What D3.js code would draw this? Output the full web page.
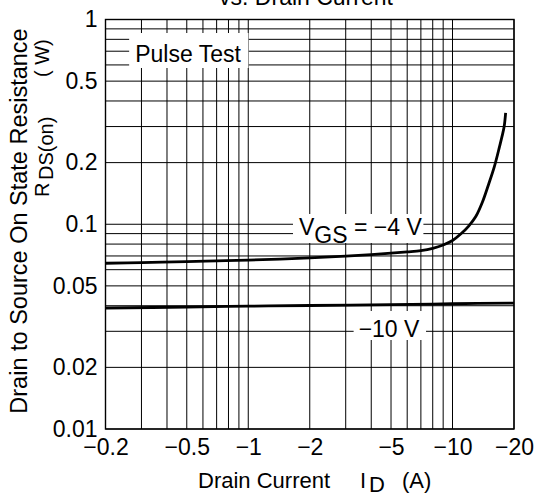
<!DOCTYPE html>
<html><head><meta charset="utf-8">
<script src="https://cdn.jsdelivr.net/npm/d3@7"></script>
<style>body{margin:0;background:#fff}svg{display:block}text{font-family:"Liberation Sans",Arial,sans-serif;fill:#000}</style>
</head><body><svg id="c" width="535" height="497"></svg>
<script>
// data
const xTickValues = [0.2, 0.5, 1, 2, 5, 10, 20];
const xTickLabels = ["\u22120.2", "\u22120.5", "\u22121", "\u22122", "\u22125", "\u221210", "\u221220"];
const yTickValues = [0.01, 0.02, 0.05, 0.1, 0.2, 0.5, 1];
const yTickLabels = ["0.01", "0.02", "0.05", "0.1", "0.2", "0.5", "1"];
const xGridValues = [0.2,0.3,0.4,0.5,0.6,0.7,0.8,0.9,1,2,3,4,5,6,7,8,9,10,20];
const yGridValues = [0.01,0.02,0.03,0.04,0.05,0.06,0.07,0.08,0.09,0.1,0.2,0.3,0.4,0.5,0.6,0.7,0.8,0.9,1];
const vgs4Current = [0.2,0.3,0.5,0.7,1,2,3,4,5,6,7,8,9,10,11,12,13,14,15,16,17,17.5,17.9,18.2];
const vgs4Rds =     [0.0645,0.065,0.0657,0.0663,0.0668,0.0685,0.0698,0.071,0.0722,0.0733,0.0744,0.0763,0.0792,0.0833,0.0898,0.098,0.109,0.128,0.156,0.19,0.24,0.27,0.3,0.35];
const vgs10Current = [0.2,0.5,1,2,5,10,20];
const vgs10Rds =     [0.039,0.0394,0.0398,0.0401,0.0405,0.0409,0.0412];

const svg = d3.select("#c");
const L = 105.5, R = 514, T = 19.5, B = 429;
const x = d3.scaleLog().domain([0.2, 20]).range([L, R]);
const y = d3.scaleLog().domain([0.01, 1]).range([B, T]);
const FONT = "Liberation Sans, Arial, sans-serif";

// title (cut off at top, as in the reference)
svg.append("text").attr("x", 306).attr("y", 5).attr("text-anchor", "middle")
  .attr("font-size", 23).text("vs. Drain Current");

// grid
const g = svg.append("g");
g.selectAll(".vx").data(xGridValues).join("line")
  .attr("x1", d => x(d)).attr("x2", d => x(d)).attr("y1", T).attr("y2", B)
  .attr("stroke", "#000").attr("stroke-width", 1);
g.selectAll(".hy").data(yGridValues).join("line")
  .attr("y1", d => y(d)).attr("y2", d => y(d)).attr("x1", L).attr("x2", R)
  .attr("stroke", "#000").attr("stroke-width", 1);

// axes (labels only)
const xAxis = d3.axisBottom(x).tickValues(xTickValues).tickFormat((d, i) => xTickLabels[i]).tickSize(0).tickPadding(10);
const ax = svg.append("g").attr("transform", `translate(0,${B})`).call(xAxis);
ax.select(".domain").remove();
ax.selectAll("text").attr("font-size", 23).attr("font-family", FONT);
const yAxis = d3.axisLeft(y).tickValues(yTickValues).tickFormat((d, i) => yTickLabels[i]).tickSize(0).tickPadding(8);
const ay = svg.append("g").attr("transform", `translate(${L},0)`).call(yAxis);
ay.select(".domain").remove();
ay.selectAll("text").attr("font-size", 23).attr("font-family", FONT);

// frame
svg.append("rect").attr("x", L).attr("y", T).attr("width", R - L).attr("height", B - T)
  .attr("fill", "none").attr("stroke", "#000").attr("stroke-width", 1.4);

// label boxes (white background hiding the grid)
function boxedText(node, padL, padR, padT, padB) {
  const bb = node.node().getBBox();
  svg.insert("rect", () => node.node()).attr("x", bb.x - padL).attr("y", bb.y - padT)
    .attr("width", bb.width + padL + padR).attr("height", bb.height + padT + padB).attr("fill", "#fff");
}
const pt = svg.append("text").attr("x", 188).attr("y", 62).attr("text-anchor", "middle").attr("font-size", 23).text("Pulse Test");
boxedText(pt, 6, 7, 8, 1);
const vt = svg.append("text").attr("x", 299).attr("y", 235).attr("font-size", 23);
vt.append("tspan").text("V");
vt.append("tspan").attr("dy", 8).text("GS");
vt.append("tspan").attr("dy", -8).text(" = \u22124 V");
boxedText(vt, 6, 1, 0, -5);
const tt = svg.append("text").attr("x", 389).attr("y", 337).attr("text-anchor", "middle").attr("font-size", 23).text("\u221210 V");
boxedText(tt, 5, 6, 5, -2);

// curves
const line = d3.line().x(d => x(d[0])).y(d => y(d[1])).curve(d3.curveCatmullRom.alpha(0.5));
svg.append("path").datum(vgs4Current.map((c, i) => [c, vgs4Rds[i]]))
  .attr("d", line).attr("fill", "none").attr("stroke", "#000").attr("stroke-width", 2.8);
svg.append("path").datum(vgs10Current.map((c, i) => [c, vgs10Rds[i]]))
  .attr("d", line).attr("fill", "none").attr("stroke", "#000").attr("stroke-width", 2.8);

// axis titles
const xt = svg.append("text").attr("x", 198).attr("y", 488).attr("font-size", 22);
xt.append("tspan").text("Drain Current");
xt.append("tspan").attr("x", 360).text("I");
xt.append("tspan").attr("x", 369).attr("dy", 4).text("D");
xt.append("tspan").attr("x", 402).attr("dy", -4).text("(A)");

svg.append("text").attr("transform", "translate(27,221) rotate(-90)").attr("text-anchor", "middle").attr("font-size", 23.5)
  .text("Drain to Source On State Resistance");
const yt2 = svg.append("text").attr("transform", "translate(49,197) rotate(-90)").attr("font-size", 20);
yt2.append("tspan").text("R");
yt2.append("tspan").attr("x", 17).attr("dy", 4).text("DS(on)");
yt2.append("tspan").attr("x", 120).attr("dy", -4).text("( W)");
</script></body></html>
